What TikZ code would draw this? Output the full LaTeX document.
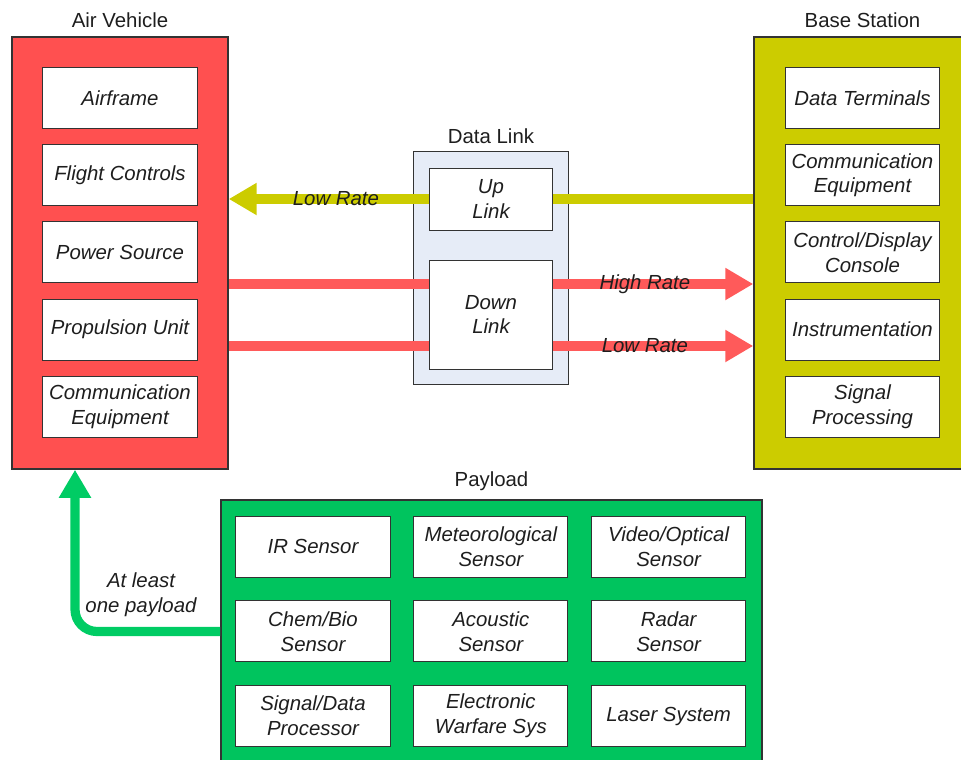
\documentclass[tikz,border=0pt]{standalone}
\usepackage{fontspec}
\setmainfont{Liberation Sans}
\usepackage{tikz}
\usetikzlibrary{positioning,arrows.meta}

\definecolor{avRed}{RGB}{255,80,80}
\definecolor{rateRed}{RGB}{255,90,90}
\definecolor{bsYellow}{RGB}{204,204,0}
\definecolor{plGreen}{RGB}{0,196,94}
\definecolor{arrGreen}{RGB}{0,204,100}
\definecolor{dlBlue}{RGB}{230,236,247}
\definecolor{txtGray}{RGB}{30,30,30}

\begin{document}
\begin{tikzpicture}[x=0.025cm,y=-0.025cm,every text node part/.style={align=center}]
\tikzset{myFont/.style={font=\fontsize{14.5}{17.7}\selectfont,text=txtGray}}
\tikzset{myItem/.style={draw=black!80,fill=white,line width=0.7pt,minimum width=3.85cm,minimum height=1.525cm,inner sep=0pt,myFont,font=\fontsize{14.5}{17.7}\selectfont\itshape}}
\tikzset{myGroup/.style={draw=black!80,line width=1pt}}
\tikzset{myLabel/.style={myFont,font=\fontsize{14.5}{17.7}\selectfont\itshape,inner sep=1pt}}
\tikzset{myLine/.style={line width=0.23cm}}
\tikzset{myArrow/.style={myLine,-{Triangle[length=0.7cm,width=0.76cm]}}}

\useasboundingbox (0,0) rectangle (961,759);

% air vehicle
\node[myGroup,fill=avRed,minimum width=5.4cm,minimum height=10.8cm] (air) at (120,253) {};
\node[myFont,above=0.08cm of air] (airTitle) {Air Vehicle};
\node[myItem] (airframe) at (120,98) {Airframe};
\node[myItem,below=0.38cm of airframe] (flight) {Flight Controls};
\node[myItem,below=0.38cm of flight] (power) {Power Source};
\node[myItem,below=0.38cm of power] (propulsion) {Propulsion Unit};
\node[myItem,below=0.38cm of propulsion] (airComm) {Communication\\Equipment};

% base station
\node[myGroup,fill=bsYellow,minimum width=5.425cm,minimum height=10.8cm] (base) at (862.5,253) {};
\node[myFont,above=0.08cm of base] (baseTitle) {Base Station};
\node[myItem] (terminals) at (862.5,98) {Data Terminals};
\node[myItem,below=0.38cm of terminals] (baseComm) {Communication\\Equipment};
\node[myItem,below=0.38cm of baseComm] (console) {Control/Display\\Console};
\node[myItem,below=0.38cm of console] (instr) {Instrumentation};
\node[myItem,below=0.38cm of instr] (sigProc) {Signal\\Processing};

% data link
\node[draw=black!80,line width=0.7pt,fill=dlBlue,minimum width=3.85cm,minimum height=5.8cm] (datalink) at (491,268) {};
\node[myFont,above=0.08cm of datalink] (dlTitle) {Data Link};
\node[myItem,minimum width=3.05cm,minimum height=1.55cm] (uplink) at (491,199) {Up\\Link};
\node[myItem,minimum width=3.05cm,minimum height=2.725cm] (downlink) at (491,314.5) {Down\\Link};

\coordinate (hiRate) at (0,284);
\coordinate (loRate) at (0,346);

\draw[myLine,bsYellow] (base.west |- uplink) -- (uplink.east);
\draw[myArrow,bsYellow] (uplink.west) -- node[myLabel,xshift=0.17cm]{Low Rate} (air.east |- uplink);

\draw[myLine,rateRed] (air.east |- hiRate) -- (downlink.west |- hiRate);
\draw[myArrow,rateRed] (downlink.east |- hiRate) -- node[myLabel,xshift=-0.2cm]{High Rate} (base.west |- hiRate);
\draw[myLine,rateRed] (air.east |- loRate) -- (downlink.west |- loRate);
\draw[myArrow,rateRed] (downlink.east |- loRate) -- node[myLabel,xshift=-0.2cm]{Low Rate} (base.west |- loRate);

% payload
\node[myGroup,fill=plGreen,minimum width=13.525cm,minimum height=6.575cm] (payload) at (491.5,631.5) {};
\node[myFont,above=0.08cm of payload] (plTitle) {Payload};
\node[myItem] (ir) at (313,546.5) {IR Sensor};
\node[myItem,right=0.57cm of ir] (meteo) {Meteorological\\Sensor};
\node[myItem,right=0.57cm of meteo] (video) {Video/Optical\\Sensor};
\node[myItem,below=0.57cm of ir] (chem) {Chem/Bio\\Sensor};
\node[myItem,below=0.57cm of meteo] (acoustic) {Acoustic\\Sensor};
\node[myItem,below=0.57cm of video] (radar) {Radar\\Sensor};
\node[myItem,below=0.57cm of chem] (sigData) {Signal/Data\\Processor};
\node[myItem,below=0.57cm of acoustic] (ew) {Electronic\\Warfare Sys};
\node[myItem,below=0.57cm of radar] (laser) {Laser System};

\coordinate (bend) at (75,0);
\draw[myArrow,arrGreen,rounded corners=0.55cm] (payload.west) -| (air.south -| bend);
\node[myLabel] (atLeast) at (141,595) {At least\\one payload};
\end{tikzpicture}
\end{document}
